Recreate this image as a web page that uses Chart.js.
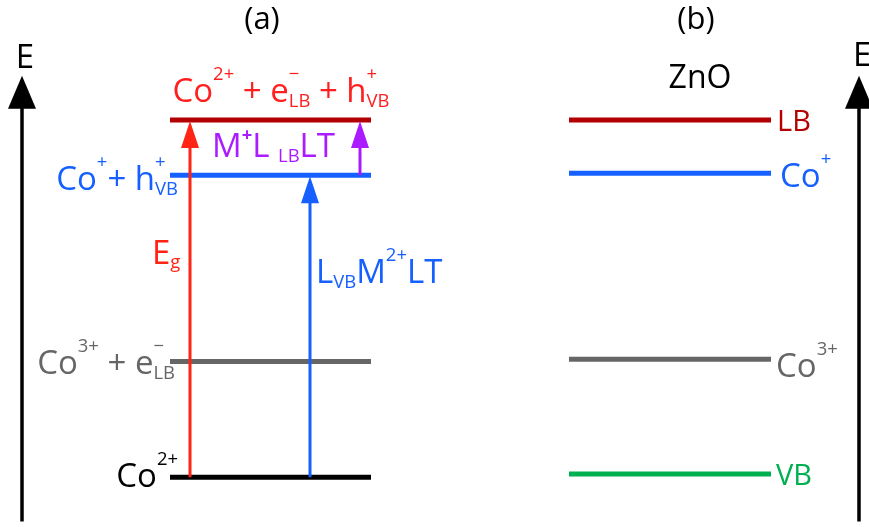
<!DOCTYPE html>
<html>
<head>
<meta charset="utf-8">
<script src="https://cdn.jsdelivr.net/npm/chart.js@4.4.1/dist/chart.umd.min.js"></script>
<style>
  html, body { margin: 0; padding: 0; background: #fff; }
  #wrap { width: 869px; height: 527px; position: relative; }
</style>
</head>
<body>
<div id="wrap"><canvas id="levelChart"></canvas></div>
<script>
// energy levels (eV, relative to Co2+ / VB)
const levelNames = ['Co2+', 'Co3+', 'Co+', 'LB'];
const energyA = [0, 1.07, 2.79, 3.30];
const energyB = [0.03, 1.09, 2.81, 3.30];
const colorsA = ['#000000', '#666666', '#1560ff', '#b40000'];
const colorsB = ['#00b050', '#666666', '#1560ff', '#b40000'];

// transitions in panel (a): index into levels
const transitionNames = ['Eg', 'LVB M2+ LT', 'M+ LLB LT'];
const transitionFrom = [0, 0, 2];
const transitionTo = [3, 2, 3];
const transitionColors = ['#ff2414', '#1560ff', '#aa1cff'];

// energy axis range
const axisBottom = -0.41;
const axisTop = 3.71;

// layout (x in pixel-like units)
const panelA = [170, 371];
const panelB = [569, 771];
const transitionX = [190, 310, 360];
const axisX = [22, 859];

const FONT = '"Open Sans", "Noto Sans", sans-serif';
const SIZE = 33;

function drawRich(ctx, parts, x, y, align, size, color) {
    const small = size * 0.56;
    const seg = parts.map(p => {
        ctx.font = size + 'px ' + FONT;
        const w = p.t ? ctx.measureText(p.t).width : 0;
        ctx.font = (p.bold ? 'bold ' : '') + small + 'px ' + FONT;
        const ws = p.sup ? ctx.measureText(p.sup).width : 0;
        ctx.font = small + 'px ' + FONT;
        const wb = p.sub ? ctx.measureText(p.sub).width : 0;
        return { p, w, ws, wb, total: w + Math.max(ws, wb) };
    });
    const total = seg.reduce((a, s) => a + s.total, 0);
    let cx = align === 'center' ? x - total / 2 : align === 'right' ? x - total : x;
    ctx.fillStyle = color;
    ctx.textAlign = 'left';
    ctx.textBaseline = 'alphabetic';
    seg.forEach(s => {
        if (s.p.t) {
            ctx.font = size + 'px ' + FONT;
            ctx.fillText(s.p.t, cx, y);
        }
        cx += s.w;
        if (s.p.sup) {
            ctx.font = (s.p.bold ? 'bold ' : '') + small + 'px ' + FONT;
            ctx.fillText(s.p.sup, cx, y - size * (s.p.bold ? 0.5 : 0.68));
        }
        if (s.p.sub) {
            ctx.font = small + 'px ' + FONT;
            ctx.fillText(s.p.sub, cx, y + size * 0.14);
        }
        cx += Math.max(s.ws, s.wb);
    });
}

// labels: y is either fixed pixel or pixel of an energy + offset
const labelSpecs = [
    { parts: [{ t: '(a)' }], x: 262, y: () => 29, align: 'center', color: '#000', size: 31 },
    { parts: [{ t: '(b)' }], x: 696, y: () => 29, align: 'center', color: '#000', size: 31 },
    { parts: [{ t: 'E' }], x: 25, y: () => 68, align: 'center', color: '#000' },
    { parts: [{ t: 'E' }], x: 853, y: () => 66, align: 'left', color: '#000' },
    { parts: [{ t: 'ZnO' }], x: 700, y: (ys) => ys.getPixelForValue(energyB[3]) - 32, align: 'center', color: '#000', size: 32 },
    { parts: [{ t: 'Co', sup: '2+' }, { t: ' + e', sup: '\u2212', sub: 'LB' }, { t: ' + h', sup: '+', sub: 'VB' }],
      x: 281, y: (ys) => ys.getPixelForValue(energyA[3]) - 18, align: 'center', color: '#ff1f1f' },
    { parts: [{ t: 'M', sup: '+', bold: true }, { t: 'L ', sub: 'LB' }, { t: 'LT' }],
      x: 212, y: (ys) => ys.getPixelForValue(energyA[3]) + 37, align: 'left', color: transitionColors[2] },
    { parts: [{ t: 'Co', sup: '+' }, { t: '+ h', sup: '+', sub: 'VB' }],
      x: 178, y: (ys) => ys.getPixelForValue(energyA[2]) + 15, align: 'right', color: '#1560ff' },
    { parts: [{ t: 'E', sub: 'g' }],
      x: 152, y: (ys) => ys.getPixelForValue(energyA[3] / 2) - 35, align: 'left', color: transitionColors[0] },
    { parts: [{ t: 'L', sub: 'VB' }, { t: 'M', sup: '2+' }, { t: 'LT' }],
      x: 316, y: (ys) => ys.getPixelForValue(energyA[2] / 2) - 43, align: 'left', color: transitionColors[1] },
    { parts: [{ t: 'Co', sup: '3+' }, { t: ' + e', sup: '\u2212', sub: 'LB' }],
      x: 175, y: (ys) => ys.getPixelForValue(energyA[1]) + 13, align: 'right', color: '#666666' },
    { parts: [{ t: 'Co', sup: '2+' }],
      x: 178, y: (ys) => ys.getPixelForValue(energyA[0]) + 10, align: 'right', color: '#000' },
    { parts: [{ t: 'LB' }], x: 777, y: (ys) => ys.getPixelForValue(energyB[3]) + 11, align: 'left', color: '#b40000', size: 29 },
    { parts: [{ t: 'Co', sup: '+' }], x: 780, y: (ys) => ys.getPixelForValue(energyB[2]) + 14, align: 'left', color: '#1560ff' },
    { parts: [{ t: 'Co', sup: '3+' }], x: 776, y: (ys) => ys.getPixelForValue(energyB[1]) + 18, align: 'left', color: '#666666' },
    { parts: [{ t: 'VB' }], x: 776, y: (ys) => ys.getPixelForValue(energyB[0]) + 11, align: 'left', color: '#00b050', size: 29 }
];

const datasets = [];
// transition shafts (first = drawn on top)
transitionNames.forEach((name, i) => {
    datasets.push({
        label: name,
        data: [{ x: transitionX[i], y: energyA[transitionFrom[i]] }, { x: transitionX[i], y: energyA[transitionTo[i]] - 0.15 }],
        borderColor: transitionColors[i], borderWidth: 3, showLine: true, pointRadius: 0
    });
});
// energy axes
axisX.forEach((ax, i) => {
    datasets.push({
        label: 'E' + i,
        data: [{ x: ax, y: axisBottom }, { x: ax, y: axisTop - 0.2 }],
        borderColor: '#000', borderWidth: 3.5, showLine: true, pointRadius: 0
    });
});
// levels
levelNames.forEach((name, i) => {
    datasets.push({
        label: 'a ' + name,
        data: [{ x: panelA[0], y: energyA[i] }, { x: panelA[1], y: energyA[i] }],
        borderColor: colorsA[i], borderWidth: 5, showLine: true, pointRadius: 0
    });
    datasets.push({
        label: 'b ' + name,
        data: [{ x: panelB[0], y: energyB[i] }, { x: panelB[1], y: energyB[i] }],
        borderColor: colorsB[i], borderWidth: 5, showLine: true, pointRadius: 0
    });
});

function arrowHead(ctx, x, yTip, len, half, color) {
    ctx.beginPath();
    ctx.moveTo(x, yTip);
    ctx.lineTo(x - half, yTip + len);
    ctx.lineTo(x + half, yTip + len);
    ctx.closePath();
    ctx.fillStyle = color;
    ctx.fill();
}

const decorPlugin = {
    id: 'decor',
    afterDatasetsDraw(chart) {
        const ctx = chart.ctx;
        const xs = chart.scales.x;
        const ys = chart.scales.y;
        ctx.save();
        transitionNames.forEach((n, i) => {
            const tip = ys.getPixelForValue(energyA[transitionTo[i]]) + 1;
            arrowHead(ctx, xs.getPixelForValue(transitionX[i]), tip, 27, 9, transitionColors[i]);
        });
        axisX.forEach(ax => {
            arrowHead(ctx, xs.getPixelForValue(ax), ys.getPixelForValue(axisTop), 33, 14, '#000');
        });
        labelSpecs.forEach(l => {
            drawRich(ctx, l.parts, xs.getPixelForValue(l.x), l.y(ys), l.align, l.size || SIZE, l.color);
        });
        ctx.restore();
    }
};

new Chart(document.getElementById('levelChart'), {
    type: 'scatter',
    data: { datasets },
    options: {
        responsive: true,
        maintainAspectRatio: false,
        animation: false,
        layout: { padding: 0 },
        scales: {
            x: { type: 'linear', min: 0, max: 869, display: false },
            y: { type: 'linear', min: -0.46, max: 4.41, display: false }
        },
        plugins: {
            legend: { display: false },
            tooltip: { enabled: false }
        }
    },
    plugins: [decorPlugin]
});
</script>
</body>
</html>
